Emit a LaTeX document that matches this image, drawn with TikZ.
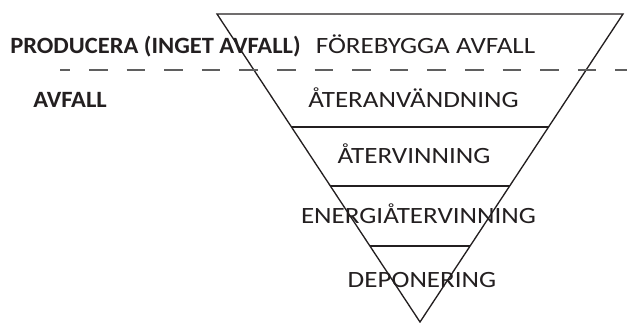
\documentclass[tikz,border=0pt]{standalone}
\usepackage{fontspec}
\setmainfont{Carlito}[FakeStretch=1.16]
\newfontfamily\sidefont{Carlito}[FakeStretch=1.05]
\usetikzlibrary{positioning, calc}
\definecolor{inkc}{RGB}{35,31,32}
\definecolor{dashc}{RGB}{95,95,95}

\begin{document}
\begin{tikzpicture}[x=0.75pt, y=-0.75pt,
    edge/.style={draw=inkc, line width=1pt},
    split/.style={dashc, line width=1.5pt,
      dash pattern=on 13.9pt off 14.3pt, dash phase=6.4pt},
    lvl/.style={anchor=base, inner sep=0pt, text=inkc,
      font=\fontsize{17.5}{20}\selectfont},
    side/.style={anchor=base west, inner sep=0pt, text=inkc,
      font=\sidefont\fontsize{17.5}{20}\selectfont\bfseries}]
  \useasboundingbox (0,0) rectangle (627,322);
  % inverted triangle
  \coordinate (tl) at (217,14);
  \coordinate (tr) at (623,14);
  \coordinate (ap) at (420,322);
  \draw[edge, line join=miter] (tl) -- (tr) -- (ap) -- cycle;
  % layer borders
  \foreach \yy [count=\i] in {127,186,246} {
    \coordinate (l\i) at (intersection of tl--ap and 0,\yy--1,\yy);
    \coordinate (r\i) at (intersection of tr--ap and 0,\yy--1,\yy);
    \draw[edge] (l\i) -- (r\i);
  }
  % dashed divider
  \coordinate (ds) at (60,70);
  \coordinate (de) at (627,70);
  \draw[split] (ds) -- (de);
  % labels
  \foreach \xx/\yy/\txt [count=\i] in {
      425.5/53/{FÖREBYGGA AVFALL},
      413.5/107/{ÅTERANVÄNDNING},
      414/163/{ÅTERVINNING},
      418.5/223/{ENERGIÅTERVINNING},
      422/287/{DEPONERING}} {
    \node[lvl] (t\i) at (\xx,\yy) {\txt};
  }
  \node[side] (prod) at (10,53) {PRODUCERA (INGET AVFALL)};
  \node[side] (avf) at (33,107) {AVFALL};
\end{tikzpicture}
\end{document}
